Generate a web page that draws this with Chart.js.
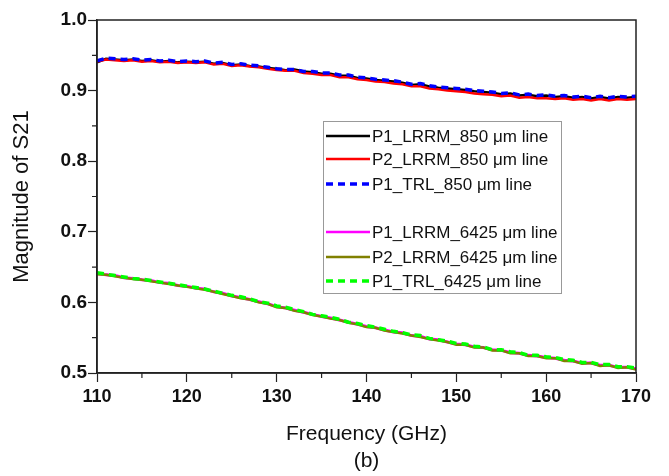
<!DOCTYPE html>
<html>
<head>
<meta charset="utf-8">
<script src="https://cdn.jsdelivr.net/npm/chart.js@4/dist/chart.umd.min.js"></script>
<style>
  body { margin: 0; background: #fff; }
  #wrap { width: 669px; height: 476px; }
</style>
</head>
<body>
<div id="wrap"><canvas id="c" width="669" height="476"></canvas></div>
<script>
// frequency points (GHz)
const freq = [110,111,112,113,114,115,116,117,118,119,120,121,122,123,124,125,126,127,128,129,
  130,131,132,133,134,135,136,137,138,139,140,141,142,143,144,145,146,147,148,149,
  150,151,152,153,154,155,156,157,158,159,160,161,162,163,164,165,166,167,168,169,170];

// 850 um line
const p1Lrrm850 = [0.940,0.945,0.944,0.943,0.944,0.942,0.943,0.941,0.942,0.940,
  0.941,0.940,0.941,0.938,0.939,0.936,0.937,0.935,0.934,0.932,
  0.931,0.929,0.930,0.927,0.926,0.924,0.924,0.921,0.921,0.918,
  0.917,0.915,0.914,0.913,0.911,0.908,0.909,0.906,0.904,0.903,
  0.902,0.901,0.899,0.898,0.897,0.895,0.896,0.893,0.894,0.892,
  0.893,0.891,0.892,0.890,0.891,0.889,0.891,0.889,0.891,0.890,0.891];
const p2Lrrm850 = [0.941,0.944,0.943,0.942,0.943,0.941,0.942,0.940,0.941,0.939,
  0.940,0.939,0.940,0.937,0.938,0.935,0.936,0.934,0.933,0.931,
  0.929,0.928,0.928,0.925,0.924,0.922,0.922,0.919,0.919,0.916,
  0.915,0.913,0.912,0.910,0.909,0.906,0.906,0.903,0.902,0.900,
  0.899,0.898,0.896,0.895,0.894,0.892,0.893,0.890,0.891,0.889,
  0.889,0.888,0.889,0.887,0.888,0.886,0.888,0.886,0.888,0.887,0.888];
const p1Trl850 = [0.942,0.946,0.945,0.944,0.945,0.943,0.944,0.942,0.943,0.941,
  0.942,0.941,0.942,0.939,0.940,0.937,0.938,0.936,0.935,0.933,
  0.931,0.930,0.930,0.927,0.927,0.925,0.925,0.922,0.922,0.919,
  0.918,0.916,0.915,0.914,0.912,0.909,0.910,0.907,0.905,0.904,
  0.903,0.902,0.900,0.899,0.898,0.896,0.897,0.894,0.895,0.893,
  0.894,0.892,0.893,0.891,0.892,0.890,0.892,0.890,0.892,0.891,0.892];

// 6425 um line
const p1Lrrm6425 = [0.641,0.639,0.638,0.635,0.634,0.632,0.631,0.628,0.627,0.624,
  0.623,0.620,0.619,0.615,0.613,0.609,0.607,0.604,0.601,0.598,
  0.594,0.592,0.589,0.586,0.583,0.580,0.578,0.575,0.572,0.569,
  0.566,0.564,0.561,0.558,0.557,0.553,0.552,0.548,0.547,0.544,
  0.541,0.540,0.537,0.536,0.533,0.532,0.529,0.528,0.525,0.524,
  0.522,0.521,0.518,0.517,0.514,0.514,0.511,0.511,0.508,0.508,0.506];
const p2Lrrm6425 = [0.640,0.639,0.637,0.635,0.633,0.632,0.630,0.628,0.626,0.624,
  0.622,0.620,0.618,0.615,0.612,0.609,0.606,0.604,0.600,0.598,
  0.593,0.592,0.588,0.586,0.582,0.580,0.577,0.575,0.571,0.569,
  0.565,0.564,0.560,0.558,0.556,0.553,0.551,0.548,0.546,0.544,
  0.540,0.540,0.536,0.536,0.532,0.532,0.528,0.528,0.524,0.524,
  0.521,0.521,0.517,0.517,0.513,0.514,0.510,0.511,0.507,0.508,0.505];
const p1Trl6425 = [0.642,0.640,0.638,0.636,0.634,0.633,0.631,0.629,0.627,0.625,
  0.623,0.621,0.619,0.616,0.613,0.610,0.608,0.605,0.601,0.599,
  0.595,0.593,0.590,0.587,0.583,0.581,0.579,0.576,0.572,0.570,
  0.567,0.565,0.562,0.559,0.557,0.554,0.553,0.549,0.547,0.545,
  0.542,0.541,0.538,0.537,0.533,0.533,0.530,0.529,0.525,0.525,
  0.523,0.522,0.519,0.518,0.515,0.515,0.512,0.512,0.509,0.509,0.507];

const seriesNames = ['P1_LRRM_850 \u03bcm line', 'P2_LRRM_850 \u03bcm line', 'P1_TRL_850 \u03bcm line',
  'P1_LRRM_6425 \u03bcm line', 'P2_LRRM_6425 \u03bcm line', 'P1_TRL_6425 \u03bcm line'];
const seriesData = [p1Lrrm850, p2Lrrm850, p1Trl850, p1Lrrm6425, p2Lrrm6425, p1Trl6425];
const seriesColors = ['#000000', '#ff0000', '#0000ff', '#ff00ff', '#808000', '#00ff00'];
const seriesWidths = [2.5, 2.5, 3.5, 3, 2.5, 3.5];
const seriesDash = [[], [], [7, 5], [], [], [7, 5]];
const seriesOrder = [2, 1, 0, 5, 4, 3];

const xTicks = [110, 120, 130, 140, 150, 160, 170];
const yTicks = [0.5, 0.6, 0.7, 0.8, 0.9, 1.0];

const FONT = "'Liberation Sans', Arial, sans-serif";

const frame = {
  id: 'frame',
  afterDraw(chart) {
    const { ctx, chartArea: a, scales } = chart;
    ctx.save();
    ctx.strokeStyle = '#222';
    ctx.lineWidth = 1.5;
    ctx.strokeRect(a.left, a.top, a.right - a.left, a.bottom - a.top);
    // minor ticks
    ctx.lineWidth = 1.2;
    ctx.beginPath();
    for (let v = 115; v < 170; v += 10) {
      const x = scales.x.getPixelForValue(v);
      ctx.moveTo(x, a.bottom); ctx.lineTo(x, a.bottom + 5);
    }
    for (let v = 0.55; v < 1.0; v += 0.1) {
      const y = scales.y.getPixelForValue(v);
      ctx.moveTo(a.left, y); ctx.lineTo(a.left - 5, y);
    }
    ctx.stroke();

    // legend box
    const lx = a.left + 226, ly = a.top + 101, lw = 238, lh = 172;
    ctx.fillStyle = '#fff';
    ctx.fillRect(lx, ly, lw, lh);
    ctx.strokeStyle = '#999';
    ctx.lineWidth = 1;
    ctx.strokeRect(lx + 0.5, ly + 0.5, lw, lh);
    const rows = [ly + 15, ly + 38, ly + 63, ly + 111, ly + 136, ly + 160];
    ctx.font = '17px ' + FONT;
    ctx.textBaseline = 'middle';
    rows.forEach((ry, i) => {
      ctx.strokeStyle = seriesColors[i];
      ctx.lineWidth = seriesDash[i].length ? 3.5 : 2.5;
      ctx.setLineDash(seriesDash[i]);
      ctx.beginPath();
      ctx.moveTo(lx + 3, ry); ctx.lineTo(lx + 47, ry);
      ctx.stroke();
      ctx.setLineDash([]);
      ctx.fillStyle = '#111';
      ctx.fillText(seriesNames[i], lx + 49, ry + 1);
    });
    ctx.restore();
  }
};

new Chart(document.getElementById('c'), {
  type: 'line',
  data: {
    datasets: seriesData.map((arr, i) => ({
      label: seriesNames[i],
      data: freq.map((f, j) => ({ x: f, y: arr[j] })),
      borderColor: seriesColors[i],
      borderWidth: seriesWidths[i],
      borderDash: seriesDash[i],
      order: seriesOrder[i],
      pointRadius: 0,
      tension: 0,
      fill: false
    }))
  },
  options: {
    responsive: false,
    animation: false,
    layout: { padding: { left: 0, right: 33, top: 20, bottom: 0 } },
    plugins: { legend: { display: false }, tooltip: { enabled: false } },
    scales: {
      x: {
        type: 'linear',
        min: 110, max: 170,
        afterFit: s => { s.height = 103; },
        afterBuildTicks: s => { s.ticks = xTicks.map(v => ({ value: v })); },
        grid: { drawOnChartArea: false, drawTicks: true, tickLength: 9, tickColor: '#222', tickWidth: 1.2 },
        border: { display: true, color: '#222', width: 1.5 },
        ticks: { color: '#111', padding: 4, maxRotation: 0, font: { family: FONT, size: 18, weight: 'bold' } },
        title: {
          display: true,
          text: ['Frequency (GHz)', '(b)'],
          color: '#111',
          padding: { top: 0, bottom: 1 },
          font: { family: FONT, size: 21, lineHeight: 1.29 }
        }
      },
      y: {
        min: 0.5, max: 1.0,
        afterFit: s => { s.width = 97; },
        afterBuildTicks: s => { s.ticks = yTicks.map(v => ({ value: v })); },
        grid: { drawOnChartArea: false, drawTicks: true, tickLength: 9, tickColor: '#222', tickWidth: 1.2 },
        border: { display: true, color: '#222', width: 1.5 },
        ticks: { color: '#111', padding: 1, callback: v => v.toFixed(1), font: { family: FONT, size: 19, weight: 'bold' } },
        title: {
          display: true,
          text: 'Magnitude of S21',
          color: '#111',
          padding: { top: 9, bottom: 0 },
          font: { family: FONT, size: 22, lineHeight: 1.2 }
        }
      }
    }
  },
  plugins: [frame]
});
</script>
</body>
</html>
